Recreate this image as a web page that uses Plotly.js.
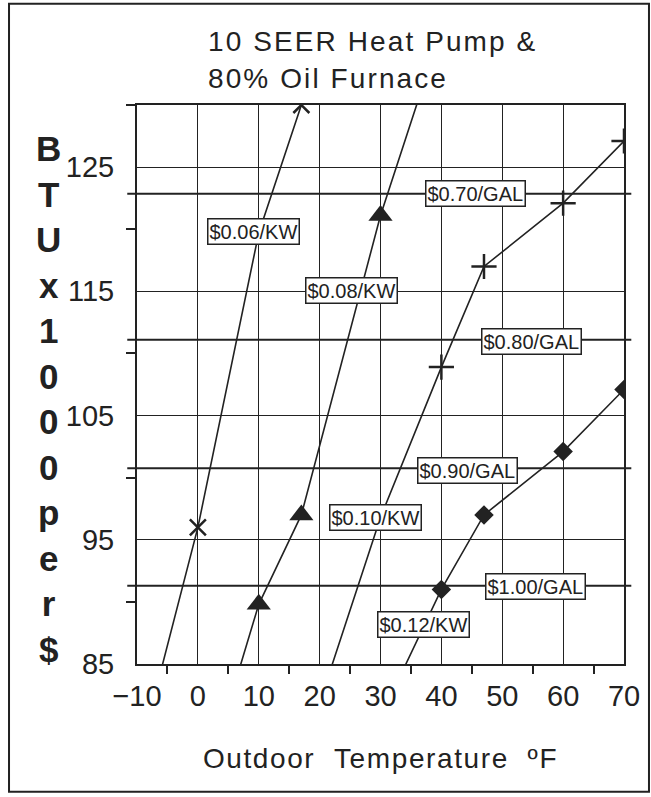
<!DOCTYPE html>
<html>
<head>
<meta charset="utf-8">
<script src="https://cdn.plot.ly/plotly-3.0.1.min.js"></script>
<style>
  html, body { margin: 0; padding: 0; background: #fff; }
  #chart { width: 651px; height: 797px; }
  .gtitle { letter-spacing: 2.1px; }
  .g-xtitle text { letter-spacing: 1.6px; }
</style>
</head>
<body>
<div id="chart"></div>
<script>
// ---- data ----
const tempsKw06 = [-10, 0, 10, 17];
const btuKw06   = [77.0, 96.0, 119.7, 130.0];
const tempsKw08 = [0, 10, 17, 30, 40];
const btuKw08   = [73.5, 89.8, 97.0, 121.1, 136.1];
const tempsKw10 = [17, 30, 40, 47, 60, 70];
const btuKw10   = [77.4, 96.8, 108.9, 117.0, 122.1, 127.1];
const tempsKw12 = [30, 40, 47, 60, 70];
const btuKw12   = [80.7, 91.0, 97.0, 102.1, 107.1];

const kwLabels  = ['$0.06/KW', '$0.08/KW', '$0.10/KW', '$0.12/KW'];
const oilLabels = ['$0.70/GAL', '$0.80/GAL', '$0.90/GAL', '$1.00/GAL'];
const oilBtu    = [122.85, 111.1, 100.75, 91.3];

const xTickVals = [-10, 0, 10, 20, 30, 40, 50, 60, 70];
const yTickVals = [85, 95, 105, 115, 125];

const titleText = '10 SEER Heat Pump &<br>80% Oil Furnace';
const xTitleText = 'Outdoor\u00a0\u00a0Temperature\u00a0\u00a0ºF';
const yTitleChars = ['B','T','U','x','1','0','0','0','p','e','r','$'];

// ---- styling ----
const ink = '#222';
const font = 'Liberation Sans, Arial, Helvetica, sans-serif';

function hpTrace(x, y, name, symbol, size, filled) {
  return {
    x: x, y: y, name: name, type: 'scatter', mode: 'lines+markers',
    line: {color: ink, width: 1.6},
    marker: filled
      ? {symbol: symbol, size: size, color: ink, line: {width: 0}}
      : {symbol: symbol, size: size, color: ink, line: {color: ink, width: 2.5}},
    showlegend: false, hoverinfo: 'x+y+name'
  };
}

const traces = [
  hpTrace(tempsKw06, btuKw06, kwLabels[0], 'x-thin-open', 16, false),
  hpTrace(tempsKw08, btuKw08, kwLabels[1], 'triangle-up', 21, true),
  hpTrace(tempsKw10, btuKw10, kwLabels[2], 'cross-thin-open', 18, false),
  hpTrace(tempsKw12, btuKw12, kwLabels[3], 'diamond', 15, true)
];

// oil price lines (horizontal), slightly extending past the frame like the original
const shapes = oilBtu.map(v => ({
  type: 'line', xref: 'paper', yref: 'y', x0: -0.02, x1: 1.015, y0: v, y1: v,
  line: {color: ink, width: 2}, layer: 'between'
}));
// outer frame of the figure
shapes.push({
  type: 'rect', xref: 'paper', yref: 'paper',
  x0: -0.2628, x1: 1.0513, y0: -0.2286, y1: 1.1811,
  line: {color: ink, width: 2}, fillcolor: 'rgba(0,0,0,0)'
});

const labelStyle = {
  showarrow: false, xanchor: 'center', yanchor: 'middle',
  bgcolor: '#fff', bordercolor: ink, borderwidth: 1.5, borderpad: 1,
  font: {family: font, size: 20, color: ink}
};
const kwLabelPos = [[9.2, 119.8], [25.3, 115.05], [29.1, 96.8], [37.1, 88.2]];
const oilLabelPos = [[45.6, 122.9], [54.8, 111.0], [44.3, 100.6], [55.5, 91.2]];

const annotations = [];
kwLabels.forEach((t, i) => annotations.push(Object.assign({}, labelStyle,
  {text: t, x: kwLabelPos[i][0], y: kwLabelPos[i][1], xref: 'x', yref: 'y'})));
oilLabels.forEach((t, i) => annotations.push(Object.assign({}, labelStyle,
  {text: t, x: oilLabelPos[i][0], y: oilLabelPos[i][1], xref: 'x', yref: 'y'})));
// vertical stacked y-axis title
annotations.push({
  text: yTitleChars.join('<br>'), showarrow: false,
  xref: 'paper', yref: 'paper', x: -0.182, y: 0.474,
  xanchor: 'center', yanchor: 'middle',
  font: {family: font, size: 35, color: ink, weight: 'bold'}
});

const layout = {
  width: 651, height: 797,
  margin: {l: 137, r: 27, t: 104.5, b: 132.6, pad: 0},
  paper_bgcolor: '#fff', plot_bgcolor: '#fff',
  font: {family: font, color: ink},
  title: {
    text: titleText, xref: 'container', yref: 'container',
    x: 0.3195, xanchor: 'left', y: 0.9355, yanchor: 'top',
    font: {family: font, size: 28, color: ink}
  },
  xaxis: {
    range: [-10, 70], tickmode: 'array', tickvals: xTickVals,
    ticks: '', showgrid: true, gridcolor: ink, gridwidth: 1.2,
    zeroline: false, showline: true, linecolor: ink, linewidth: 2, mirror: true,
    tickfont: {family: font, size: 29, color: ink}, ticklabelstandoff: 5,
    minor: {tick0: -5, dtick: 10, ticks: 'outside', ticklen: 8, tickwidth: 2, tickcolor: ink, showgrid: false},
    title: {text: xTitleText, font: {family: font, size: 28, color: ink}, standoff: 38},
    fixedrange: true
  },
  yaxis: {
    range: [85, 130], tickmode: 'array', tickvals: yTickVals,
    ticks: '', showgrid: true, gridcolor: ink, gridwidth: 1.2,
    zeroline: false, showline: true, linecolor: ink, linewidth: 2, mirror: true,
    tickfont: {family: font, size: 29, color: ink}, ticklabelstandoff: 15,
    minor: {tick0: 90, dtick: 10, ticks: 'outside', ticklen: 9, tickwidth: 2, tickcolor: ink, showgrid: false},
    fixedrange: true
  },
  shapes: shapes,
  annotations: annotations,
  showlegend: false
};

Plotly.newPlot('chart', traces, layout, {displayModeBar: false, staticPlot: true});
</script>
</body>
</html>
